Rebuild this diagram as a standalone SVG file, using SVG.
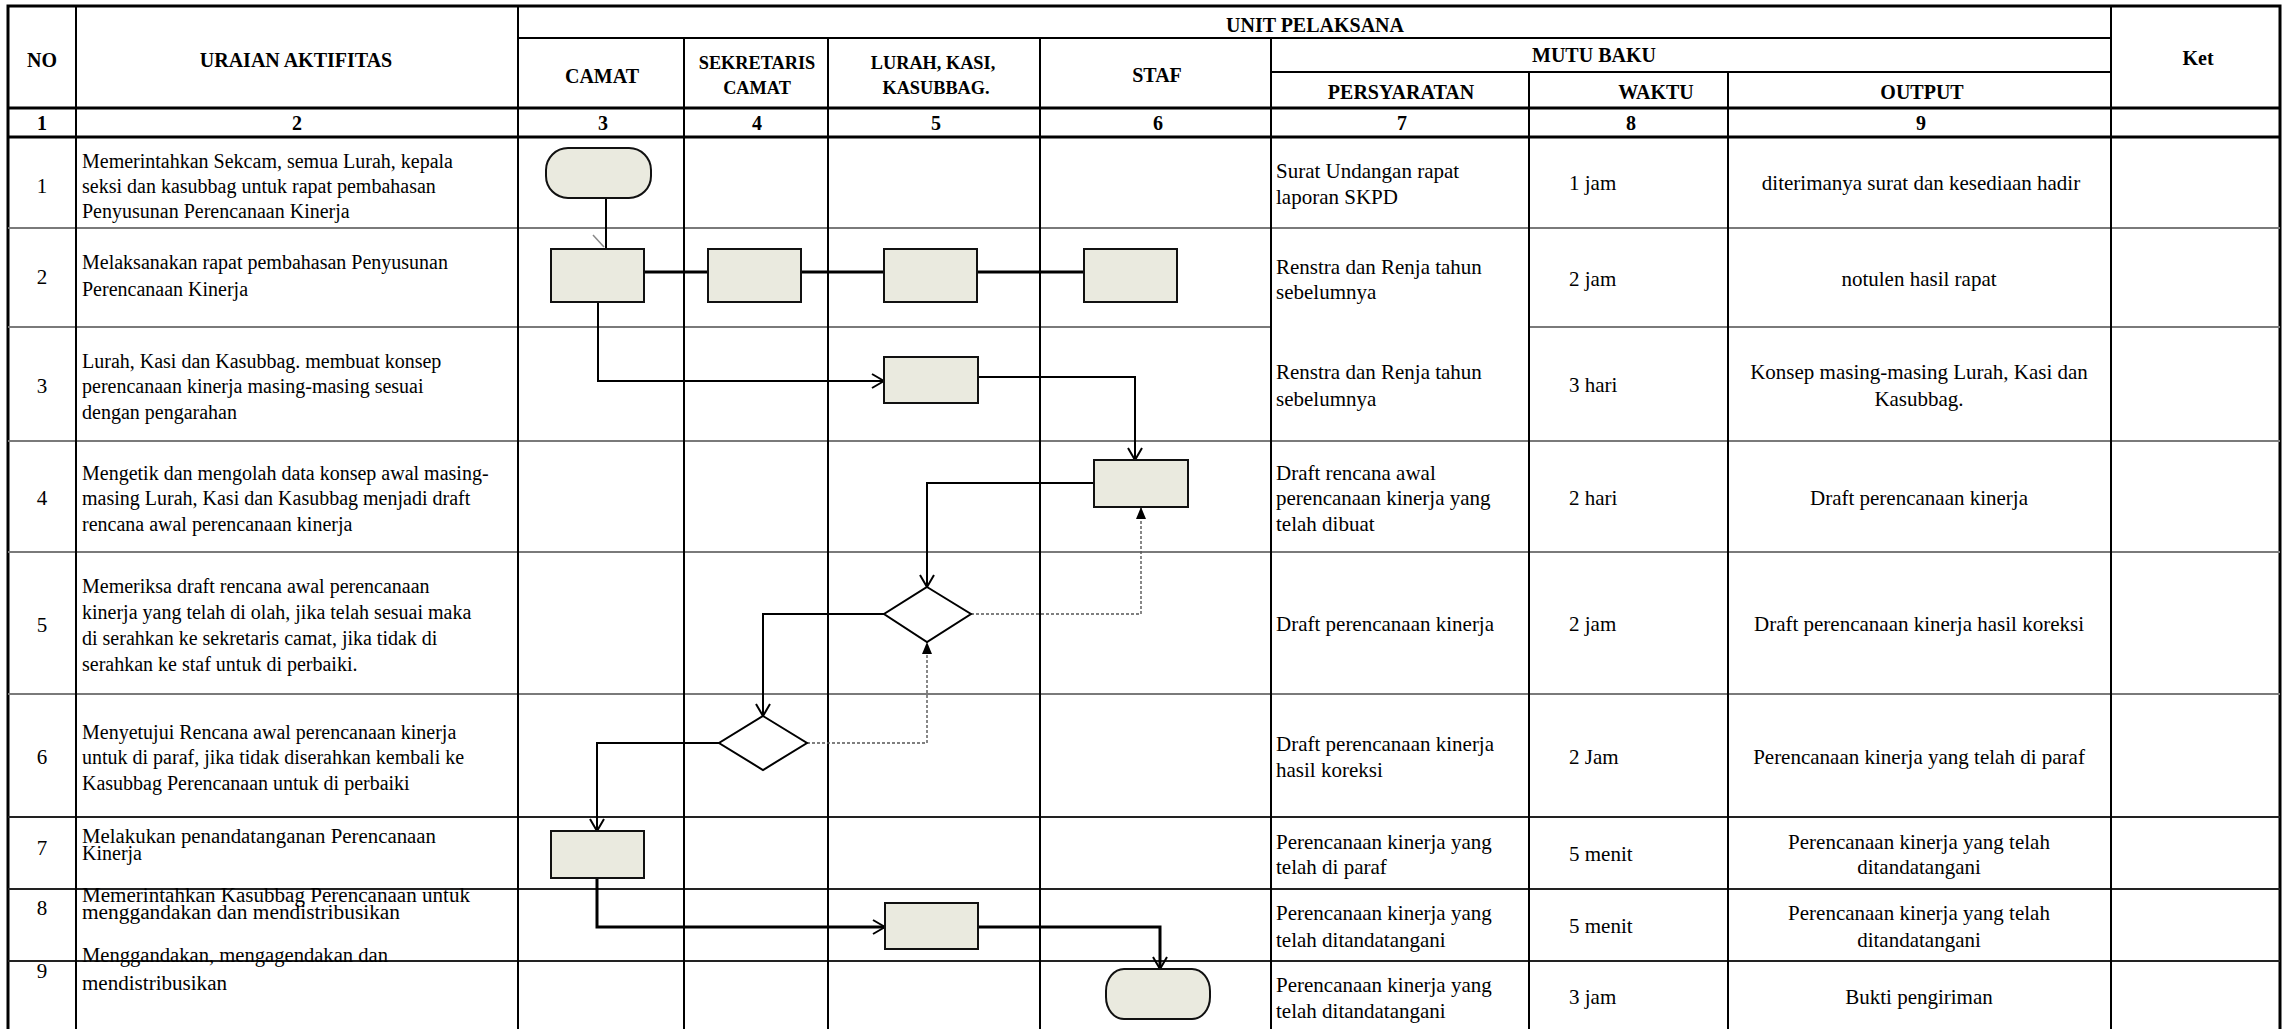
<svg xmlns="http://www.w3.org/2000/svg" width="2291" height="1029" viewBox="0 0 2291 1029">
<style>
text{font-family:"Liberation Serif","Times New Roman",serif;fill:#000}
.t{font-size:21px}
.u{font-size:20px}
.m{text-anchor:middle}
.h{font-size:20px;font-weight:bold;text-anchor:middle}
.hs{font-size:18.3px;font-weight:bold;text-anchor:middle}
.vl{stroke:#000;stroke-width:2}
.hk{stroke:#000;stroke-width:3}
.hl{stroke:#7a7a7a;stroke-width:2}
.hd{stroke:#222;stroke-width:2}
.box{fill:#EAEADF;stroke:#111;stroke-width:2}
.dia{fill:#fff;stroke:#000;stroke-width:2}
.conn{fill:none;stroke:#000;stroke-width:2}
.thick{stroke-width:3}
.dot{fill:none;stroke:#555;stroke-width:1.4;stroke-dasharray:3 2}
</style>
<defs>
<marker id="open" viewBox="0 0 14 16" refX="13" refY="8" markerWidth="14" markerHeight="16" markerUnits="userSpaceOnUse" orient="auto">
<path d="M1,1 L13,8 L1,15" fill="none" stroke="#000" stroke-width="2"/>
</marker>
<marker id="fill" viewBox="0 0 12 10" refX="12" refY="5" markerWidth="12" markerHeight="10" markerUnits="userSpaceOnUse" orient="auto">
<path d="M0,0 L12,5 L0,10 Z" fill="#000"/>
</marker>
</defs>
<rect width="2291" height="1029" fill="#fff"/>

<g id="table">
<rect x="8" y="6" width="2272" height="1030" fill="none" stroke="#000" stroke-width="3"/>
<line class="vl" x1="518" y1="38" x2="2111" y2="38"/>
<line class="vl" x1="1271" y1="72" x2="2111" y2="72"/>
<line class="hk" x1="8" y1="108" x2="2280" y2="108"/>
<line class="hk" x1="8" y1="137" x2="2280" y2="137"/>
<line class="hl" x1="8" y1="228" x2="2280" y2="228"/>
<line class="hl" x1="8" y1="327" x2="1271" y2="327"/>
<line class="hl" x1="1529" y1="327" x2="2280" y2="327"/>
<line class="hl" x1="8" y1="441" x2="2280" y2="441"/>
<line class="hl" x1="8" y1="552" x2="2280" y2="552"/>
<line class="hl" x1="8" y1="694" x2="2280" y2="694"/>
<line class="hd" x1="8" y1="817" x2="2280" y2="817"/>
<line class="hd" x1="8" y1="889" x2="2280" y2="889"/>
<line class="hd" x1="8" y1="961" x2="2280" y2="961"/>
<line class="vl" x1="76" y1="6" x2="76" y2="1029"/>
<line class="vl" x1="518" y1="6" x2="518" y2="1029"/>
<line class="vl" x1="684" y1="38" x2="684" y2="1029"/>
<line class="vl" x1="828" y1="38" x2="828" y2="1029"/>
<line class="vl" x1="1040" y1="38" x2="1040" y2="1029"/>
<line class="vl" x1="1271" y1="38" x2="1271" y2="1029"/>
<line class="vl" x1="1529" y1="72" x2="1529" y2="1029"/>
<line class="vl" x1="1728" y1="72" x2="1728" y2="1029"/>
<line class="vl" x1="2111" y1="6" x2="2111" y2="1029"/>
</g>

<g id="headers">
<text class="h" x="42" y="67">NO</text>
<text class="h" x="296" y="67">URAIAN AKTIFITAS</text>
<text class="h" x="1315" y="32">UNIT PELAKSANA</text>
<text class="h" x="602" y="83">CAMAT</text>
<text class="hs" x="757" y="69">SEKRETARIS</text>
<text class="hs" x="757" y="94">CAMAT</text>
<text class="hs" x="933" y="69">LURAH, KASI,</text>
<text class="hs" x="936" y="94">KASUBBAG.</text>
<text class="h" x="1157" y="82">STAF</text>
<text class="h" x="1594" y="62">MUTU BAKU</text>
<text class="h" x="1401" y="99">PERSYARATAN</text>
<text class="h" x="1656" y="99">WAKTU</text>
<text class="h" x="1922" y="99">OUTPUT</text>
<text class="h" x="2198" y="65">Ket</text>
<text class="h" x="42" y="130">1</text>
<text class="h" x="297" y="130">2</text>
<text class="h" x="603" y="130">3</text>
<text class="h" x="757" y="130">4</text>
<text class="h" x="936" y="130">5</text>
<text class="h" x="1158" y="130">6</text>
<text class="h" x="1402" y="130">7</text>
<text class="h" x="1631" y="130">8</text>
<text class="h" x="1921" y="130">9</text>
</g>

<g id="rownumbers">
<text class="t m" x="42" y="193">1</text>
<text class="t m" x="42" y="284">2</text>
<text class="t m" x="42" y="393">3</text>
<text class="t m" x="42" y="505">4</text>
<text class="t m" x="42" y="632">5</text>
<text class="t m" x="42" y="764">6</text>
<text class="t m" x="42" y="855">7</text>
<text class="t m" x="42" y="915">8</text>
<text class="t m" x="42" y="978">9</text>
</g>

<g id="uraian">
<text class="u" x="82" y="168">Memerintahkan Sekcam, semua Lurah, kepala</text>
<text class="u" x="82" y="193">seksi dan kasubbag untuk rapat pembahasan</text>
<text class="u" x="82" y="218">Penyusunan Perencanaan Kinerja</text>
<text class="u" x="82" y="269">Melaksanakan rapat pembahasan Penyusunan</text>
<text class="u" x="82" y="296">Perencanaan Kinerja</text>
<text class="u" x="82" y="368">Lurah, Kasi dan Kasubbag. membuat konsep</text>
<text class="u" x="82" y="393">perencanaan kinerja masing-masing sesuai</text>
<text class="u" x="82" y="419">dengan pengarahan</text>
<text class="u" x="82" y="480">Mengetik dan mengolah data konsep awal masing-</text>
<text class="u" x="82" y="505">masing Lurah, Kasi dan Kasubbag menjadi draft</text>
<text class="u" x="82" y="531">rencana awal perencanaan kinerja</text>
<text class="u" x="82" y="593">Memeriksa draft rencana awal perencanaan</text>
<text class="u" x="82" y="619">kinerja yang telah di olah, jika telah sesuai maka</text>
<text class="u" x="82" y="645">di serahkan ke sekretaris camat, jika tidak di</text>
<text class="u" x="82" y="671">serahkan ke staf untuk di perbaiki.</text>
<text class="u" x="82" y="739">Menyetujui Rencana awal perencanaan kinerja</text>
<text class="u" x="82" y="764">untuk di paraf, jika tidak diserahkan kembali ke</text>
<text class="u" x="82" y="790">Kasubbag Perencanaan untuk di perbaiki</text>
<text class="u" x="82" y="843" textLength="354" lengthAdjust="spacingAndGlyphs">Melakukan penandatanganan Perencanaan</text>
<text class="u" x="82" y="860" textLength="60" lengthAdjust="spacingAndGlyphs">Kinerja</text>
<text class="u" x="82" y="902" textLength="388" lengthAdjust="spacingAndGlyphs">Memerintahkan Kasubbag Perencanaan untuk</text>
<text class="u" x="82" y="919" textLength="318" lengthAdjust="spacingAndGlyphs">menggandakan dan mendistribusikan</text>
<text class="u" x="82" y="962" textLength="306" lengthAdjust="spacingAndGlyphs">Menggandakan, mengagendakan dan</text>
<text class="u" x="82" y="990" textLength="145" lengthAdjust="spacingAndGlyphs">mendistribusikan</text>
</g>

<g id="persyaratan">
<text class="t" x="1276" y="178">Surat Undangan rapat</text>
<text class="t" x="1276" y="204">laporan SKPD</text>
<text class="t" x="1276" y="274">Renstra dan Renja tahun</text>
<text class="t" x="1276" y="299">sebelumnya</text>
<text class="t" x="1276" y="379">Renstra dan Renja tahun</text>
<text class="t" x="1276" y="406">sebelumnya</text>
<text class="t" x="1276" y="480">Draft rencana awal</text>
<text class="t" x="1276" y="505">perencanaan kinerja yang</text>
<text class="t" x="1276" y="531">telah dibuat</text>
<text class="t" x="1276" y="631">Draft perencanaan kinerja</text>
<text class="t" x="1276" y="751">Draft perencanaan kinerja</text>
<text class="t" x="1276" y="777">hasil koreksi</text>
<text class="t" x="1276" y="849">Perencanaan kinerja yang</text>
<text class="t" x="1276" y="874">telah di paraf</text>
<text class="t" x="1276" y="920">Perencanaan kinerja yang</text>
<text class="t" x="1276" y="947">telah ditandatangani</text>
<text class="t" x="1276" y="992">Perencanaan kinerja yang</text>
<text class="t" x="1276" y="1018">telah ditandatangani</text>
</g>

<g id="waktu">
<text class="t" x="1569" y="190">1 jam</text>
<text class="t" x="1569" y="286">2 jam</text>
<text class="t" x="1569" y="392">3 hari</text>
<text class="t" x="1569" y="505">2 hari</text>
<text class="t" x="1569" y="631">2 jam</text>
<text class="t" x="1569" y="764">2 Jam</text>
<text class="t" x="1569" y="861">5 menit</text>
<text class="t" x="1569" y="933">5 menit</text>
<text class="t" x="1569" y="1004">3 jam</text>
</g>

<g id="output">
<text class="t m" x="1921" y="190">diterimanya surat dan kesediaan hadir</text>
<text class="t m" x="1919" y="286">notulen hasil rapat</text>
<text class="t m" x="1919" y="379">Konsep masing-masing Lurah, Kasi dan</text>
<text class="t m" x="1919" y="406">Kasubbag.</text>
<text class="t m" x="1919" y="505">Draft perencanaan kinerja</text>
<text class="t m" x="1919" y="631">Draft perencanaan kinerja hasil koreksi</text>
<text class="t m" x="1919" y="764">Perencanaan kinerja yang telah di paraf</text>
<text class="t m" x="1919" y="849">Perencanaan kinerja yang telah</text>
<text class="t m" x="1919" y="874">ditandatangani</text>
<text class="t m" x="1919" y="920">Perencanaan kinerja yang telah</text>
<text class="t m" x="1919" y="947">ditandatangani</text>
<text class="t m" x="1919" y="1004">Bukti pengiriman</text>
</g>

<g id="connectors">
<line class="conn" x1="606" y1="198" x2="606" y2="249"/>
<line x1="593" y1="235" x2="604" y2="247" stroke="#888" stroke-width="1.5"/>
<line class="conn thick" x1="644" y1="272" x2="1084" y2="272"/>
<path class="conn" d="M598,302 V381 H884" marker-end="url(#open)"/>
<path class="conn" d="M973,377 H1135 V460" marker-end="url(#open)"/>
<path class="conn" d="M1094,483 H927 V587" marker-end="url(#open)"/>
<path class="dot" d="M971,614 H1141 V507" marker-end="url(#fill)"/>
<path class="conn" d="M884,614 H763 V716" marker-end="url(#open)"/>
<path class="dot" d="M807,743 H927 V642" marker-end="url(#fill)"/>
<path class="conn" d="M719,743 H597 V831" marker-end="url(#open)"/>
<path class="conn thick" d="M597,878 V927 H885" marker-end="url(#open)"/>
<path class="conn thick" d="M978,927 H1160 V969" marker-end="url(#open)"/>
</g>

<g id="n1"><rect class="box" x="546" y="148" width="105" height="50" rx="22" ry="22"/></g>
<g id="n2a"><rect class="box" x="551" y="249" width="93" height="53"/></g>
<g id="n2b"><rect class="box" x="708" y="249" width="93" height="53"/></g>
<g id="n2c"><rect class="box" x="884" y="249" width="93" height="53"/></g>
<g id="n2d"><rect class="box" x="1084" y="249" width="93" height="53"/></g>
<g id="n3"><rect class="box" x="884" y="357" width="94" height="46"/></g>
<g id="n4"><rect class="box" x="1094" y="460" width="94" height="47"/></g>
<g id="n5"><polygon class="dia" points="927,587 971,614 927,642 884,614"/></g>
<g id="n6"><polygon class="dia" points="763,716 807,743 763,770 719,743"/></g>
<g id="n7"><rect class="box" x="551" y="831" width="93" height="47"/></g>
<g id="n8"><rect class="box" x="885" y="903" width="93" height="46"/></g>
<g id="n9"><rect class="box" x="1106" y="969" width="104" height="50" rx="18" ry="22"/></g>
</svg>
